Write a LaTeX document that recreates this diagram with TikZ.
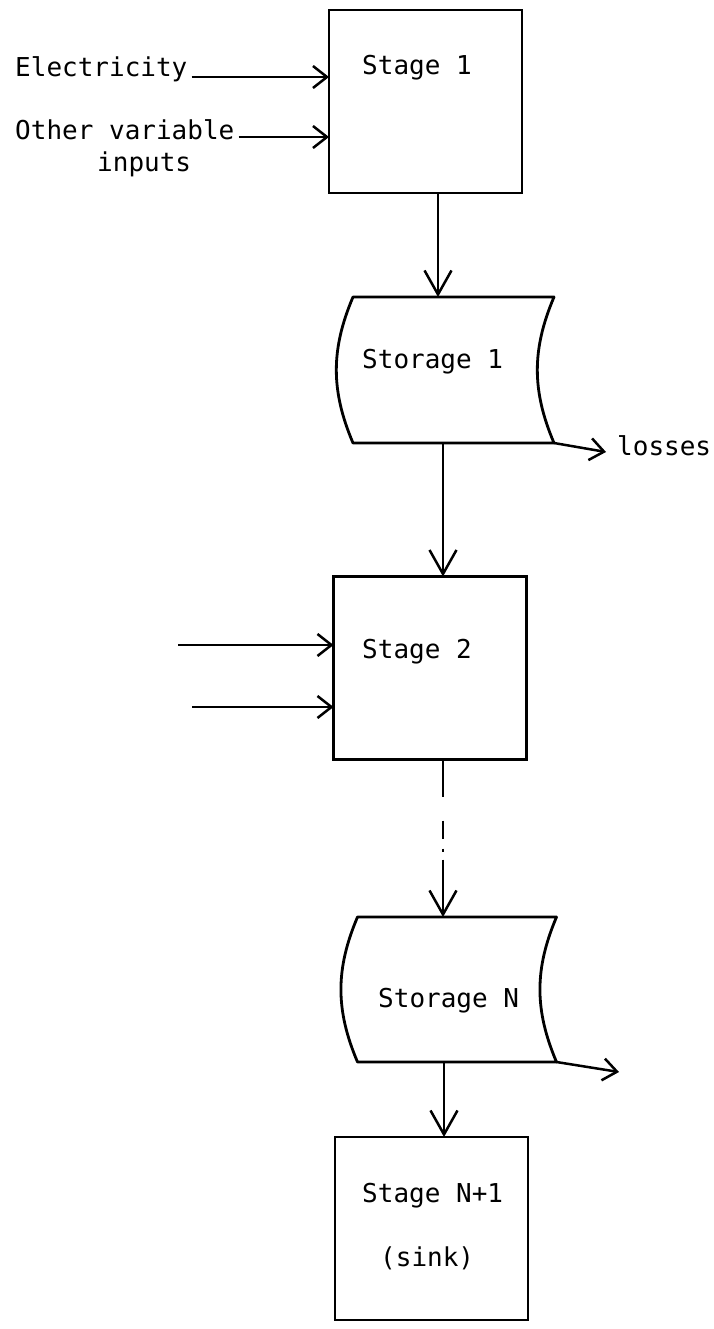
\documentclass[tikz,border=0pt]{standalone}
\usepackage{fontspec}
\setmonofont{DejaVu Sans Mono}
\usepackage{tikz}
\usetikzlibrary{arrows.meta, positioning, calc}
\tikzset{
    stagebox/.style={rectangle, draw, line width=2.8pt, minimum width=193pt, minimum height=183pt, inner sep=0pt, outer sep=0pt},
    storebox/.style={rectangle, minimum width=201pt, minimum height=146pt, inner sep=0pt, outer sep=0pt},
    storeline/.style={line width=2.8pt, line join=round},
    txt/.style={inner sep=0pt, anchor=base west, font=\ttfamily\fontsize{26}{31}\selectfont},
    inarrow/.style={-{Straight Barb[length=14pt, width=22pt]}, line width=2.5pt},
    flow/.style={-{Straight Barb[length=24pt, width=27pt]}, line width=2.5pt},
    dflow/.style={flow, dash pattern=on 37pt off 24pt on 18pt off 10pt on 3pt off 8pt on 80pt},
}

\begin{document}
\begin{tikzpicture}[x=1pt, y=1pt]
    \useasboundingbox (0,0) rectangle (713,-1329);

    % Stages
    \node[stagebox] (stage1) at (425.5,-101.5) {};
    \node[stagebox] (stage2) at (430,-668) {};
    \node[stagebox] (stageN1) at (431.5,-1228.5) {};

    % Storages
    \node[storebox] (store1) at (453.5,-370) {};
    \node[storebox, minimum width=199pt, minimum height=145pt] (storeN) at (457,-989.5) {};
    \foreach \s in {store1, storeN}
        \draw[storeline] (\s.north west) -- (\s.north east) to[bend right=23] (\s.south east)
            -- (\s.south west) to[bend left=23] cycle;

    % Texts
    \node[txt] (elec) at (15,-77) {Electricity};
    \node[txt] (other) at (15,-140) {Other variable};
    \node[txt] (otherb) at (97,-172) {inputs};
    \node[txt] (t1) at (362,-75) {Stage 1};
    \node[txt] (t2) at (362,-368) {Storage 1};
    \node[txt] (t3) at (362,-658) {Stage 2};
    \node[txt] (t4) at (378,-1007) {Storage N};
    \node[txt] (t5) at (362,-1202) {Stage N+1};
    \node[txt] (t6) at (380,-1266) {(sink)};
    \node[txt] (losses) at (617,-455) {losses};

    % Free ends
    \coordinate (in2a) at (178,-645);
    \coordinate (in2b) at (192,-707);
    \coordinate (outN) at (619,-1072);

    % Inputs
    \draw[inarrow] ([xshift=4pt]elec.base east) -- (elec.base east -| stage1.west);
    \draw[inarrow] ([xshift=4pt, yshift=3pt]other.base east) -- ([yshift=3pt]other.base east -| stage1.west);
    \draw[inarrow] (in2a) -- (in2a -| stage2.west);
    \draw[inarrow] (in2b) -- (in2b -| stage2.west);

    % Flow
    \draw[flow] ([xshift=12.5pt]stage1.south) -- ([xshift=-15.5pt]store1.north);
    \draw[flow] ([xshift=-10.5pt]store1.south) -- ([xshift=13pt]stage2.north);
    \draw[dflow] ([xshift=13pt]stage2.south) -- ([xshift=-14pt]storeN.north);
    \draw[flow] ([xshift=-13pt]storeN.south) -- ([xshift=12.5pt]stageN1.north);

    % Losses
    \draw[inarrow] (store1.south east) -- ([xshift=-11pt, yshift=3pt]losses.base west);
    \draw[inarrow] (storeN.south east) -- (outN);
\end{tikzpicture}
\end{document}
